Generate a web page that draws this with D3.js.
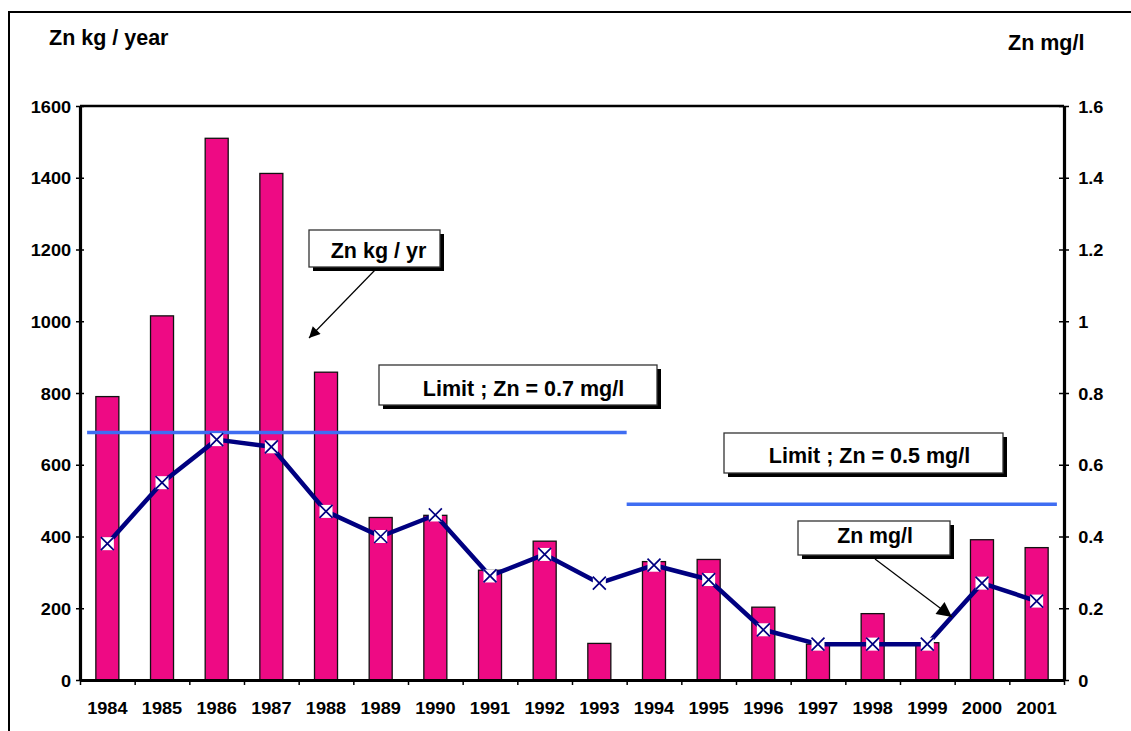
<!DOCTYPE html>
<html><head><meta charset="utf-8">
<script src="https://cdn.jsdelivr.net/npm/d3@7"></script>
<style>
html,body{margin:0;padding:0;background:#fff;}
svg{display:block;font-family:"Liberation Sans",Arial,sans-serif;font-weight:bold;}
</style></head>
<body>
<svg id="chart" width="1131" height="731"></svg>
<script>
const years = ["1984","1985","1986","1987","1988","1989","1990","1991","1992","1993","1994","1995","1996","1997","1998","1999","2000","2001"];
const znKgPerYear = [790,1015,1510,1412,858,453,459,306,387,102,330,336,203,100,185,104,391,369];
const znMgPerL = [0.38,0.55,0.67,0.65,0.47,0.40,0.46,0.29,0.35,0.27,0.32,0.28,0.14,0.10,0.10,0.10,0.27,0.22];
const leftTicks = [0,200,400,600,800,1000,1200,1400,1600];
const rightTicks = [0,0.2,0.4,0.6,0.8,1,1.2,1.4,1.6];
const limitValues = [0.69, 0.49];
const limitFrom = [0.13, 10];
const limitTo = [10, 17.87];
const limitLabels = ["Limit ; Zn = 0.7 mg/l", "Limit ; Zn = 0.5 mg/l"];
const leftTitle = "Zn kg / year";
const rightTitle = "Zn mg/l";
const barLabel = "Zn kg / yr";
const lineLabel = "Zn mg/l";

const SX = 1.05;
const svg = d3.select("#chart");
const L = 80, R = 1064, T = 106, B = 680;

// outer frame
svg.append("rect").attr("x",9).attr("y",12).attr("width",1140).attr("height",740)
  .attr("fill","none").attr("stroke","#000").attr("stroke-width",2);

const xBand = d3.scaleBand().domain(years).range([L,R]).paddingInner(0.579).paddingOuter(0.29);
const xIdx = d3.scaleLinear().domain([0,years.length]).range([L,R]);
const yL = d3.scaleLinear().domain([0,1600]).range([B,T]);
const yR = d3.scaleLinear().domain([0,1.6]).range([B,T]);

// bars
svg.append("g").selectAll("rect").data(znKgPerYear).join("rect")
  .attr("x",(d,i)=>xBand(years[i])).attr("y",d=>yL(d))
  .attr("width",xBand.bandwidth()).attr("height",d=>B-yL(d))
  .attr("fill","#EE0A84").attr("stroke","#111").attr("stroke-width",1.3);

// limit lines
svg.append("g").selectAll("line").data(limitValues).join("line")
  .attr("x1",(d,i)=>xIdx(limitFrom[i])).attr("x2",(d,i)=>xIdx(limitTo[i]))
  .attr("y1",d=>yR(d)).attr("y2",d=>yR(d))
  .attr("stroke","#3F6DF2").attr("stroke-width",3.5);

// zn mg/l line
const cx = i => xBand(years[i]) + xBand.bandwidth()/2;
svg.append("path").datum(znMgPerL)
  .attr("d", d3.line().x((d,i)=>cx(i)).y(d=>yR(d)))
  .attr("fill","none").attr("stroke","#000080").attr("stroke-width",4.5).attr("stroke-linejoin","round");

// markers
const mk = svg.append("g").selectAll("g").data(znMgPerL).join("g")
  .attr("transform",(d,i)=>`translate(${cx(i)},${yR(d)})`);
mk.append("rect").attr("x",-6.5).attr("y",-6.5).attr("width",13).attr("height",13).attr("fill","#fff");
mk.append("path").attr("d","M-6.5,-6.5L6.5,6.5M-6.5,6.5L6.5,-6.5").attr("stroke","#000080").attr("stroke-width",1.7);

// axes
const ax = svg.append("g");
const gL = ax.append("g").attr("transform",`translate(${L},0)`)
  .call(d3.axisLeft(yL).tickValues(leftTicks).tickSize(4).tickPadding(4.5).tickSizeOuter(0).tickFormat(d3.format("d")));
gL.selectAll(".tick line").attr("x1",4).attr("stroke-width",1.5);
const gR = ax.append("g").attr("transform",`translate(${R},0)`)
  .call(d3.axisRight(yR).tickValues(rightTicks).tickSize(5).tickPadding(8.5).tickSizeOuter(0).tickFormat(d=>String(d)));
gR.selectAll(".tick line").attr("x1",-5).attr("stroke-width",1.5);
const gB = ax.append("g").attr("transform",`translate(0,${B})`)
  .call(d3.axisBottom(xIdx).tickValues(d3.range(years.length+1)).tickSize(5).tickFormat("").tickSizeOuter(0));
gB.selectAll(".tick line").attr("stroke-width",1.5);
const gX = ax.append("g").attr("transform",`translate(0,${B})`)
  .call(d3.axisBottom(xBand).tickSize(0).tickPadding(21.5));
gX.select(".domain").remove();
[gL,gR,gB].forEach(g=>g.select(".domain").attr("stroke-width",3.2));
ax.selectAll("text").attr("font-family","Liberation Sans, Arial, sans-serif").attr("font-weight","bold")
  .attr("font-size",17.3).attr("fill","#000").attr("transform",`scale(${SX},1)`);
gL.selectAll("text").attr("dy","0.36em");
gR.selectAll("text").attr("dy","0.36em");
// top border of plot
svg.append("line").attr("x1",L).attr("x2",R).attr("y1",T).attr("y2",T).attr("stroke","#000").attr("stroke-width",2.5);

function addText(x,y,label,fs,anchor){
  svg.append("text").attr("x",x).attr("y",y).attr("font-size",fs)
    .attr("text-anchor",anchor||"start").attr("fill","#000").text(label);
}
// titles
addText(49,45,leftTitle,21.5);
addText(1008,50,rightTitle,21.5);

// callouts
function callout(x,y,w,h,label,tx,ty,fs){
  svg.append("rect").attr("x",x+4).attr("y",y+4).attr("width",w).attr("height",h).attr("fill","#000");
  svg.append("rect").attr("x",x).attr("y",y).attr("width",w).attr("height",h).attr("fill","#fff").attr("stroke","#333").attr("stroke-width",1.3);
  addText(tx,ty,label,fs,"middle");
}
callout(309,230,131,37,barLabel,378.5,258,21.5);
callout(379,365,278,40,limitLabels[0],523.5,396,21.5);
callout(724,433,279,40,limitLabels[1],869.5,463,21.5);
callout(798,521,152,34,lineLabel,875,543,21.3);

// arrows
const defs = svg.append("defs");
defs.append("marker").attr("id","ah1").attr("viewBox","0 0 10 10").attr("refX",10).attr("refY",5)
  .attr("markerWidth",15).attr("markerHeight",11).attr("markerUnits","userSpaceOnUse").attr("orient","auto")
  .append("path").attr("d","M0,0L10,5L0,10Z").attr("fill","#000");
defs.append("marker").attr("id","ah2").attr("viewBox","0 0 10 10").attr("refX",10).attr("refY",5)
  .attr("markerWidth",20).attr("markerHeight",15).attr("markerUnits","userSpaceOnUse").attr("orient","auto")
  .append("path").attr("d","M0,0L10,5L0,10Z").attr("fill","#000");
svg.append("line").attr("x1",375).attr("y1",270).attr("x2",309).attr("y2",338)
  .attr("stroke","#000").attr("stroke-width",1.2).attr("marker-end","url(#ah1)");
svg.append("line").attr("x1",875).attr("y1",559).attr("x2",952).attr("y2",617)
  .attr("stroke","#000").attr("stroke-width",1.2).attr("marker-end","url(#ah2)");
</script>
</body></html>
